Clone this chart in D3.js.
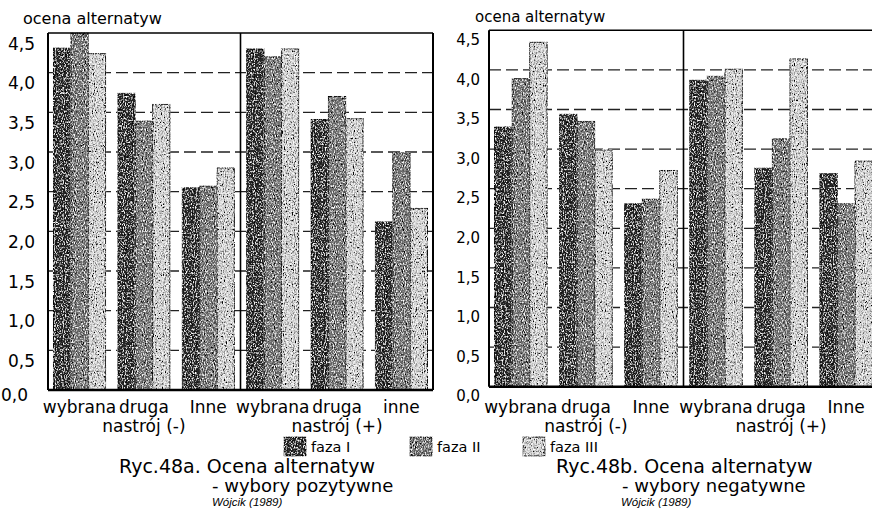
<!DOCTYPE html>
<html>
<head>
<meta charset="utf-8">
<script src="https://cdn.jsdelivr.net/npm/d3@7/dist/d3.min.js"></script>
<style>
  html, body { margin: 0; padding: 0; background: #fff; }
  svg { display: block; font-family: "DejaVu Sans", sans-serif; }
</style>
</head>
<body>
<svg id="chart" width="872" height="531"></svg>
<script>
// Phases of the study (series) and the group labels under each panel
const phases = ["faza I", "faza II", "faza III"];
const groupLabels = ["wybrana", "druga", "Inne", "wybrana", "druga", "inne"];
const groupLabelsB = ["wybrana", "druga", "Inne", "wybrana", "druga", "Inne"];
const moodLabels = ["nastrój (-)", "nastrój (+)"];

// Ryc.48a – positive choices (mood − groups, then mood + groups)
const posFazaI   = [4.31, 3.74, 2.55, 4.30, 3.41, 2.12];
const posFazaII  = [4.50, 3.39, 2.57, 4.20, 3.70, 2.99];
const posFazaIII = [4.24, 3.60, 2.80, 4.30, 3.42, 2.29];

// Ryc.48b – negative choices
const negFazaI   = [3.28, 3.44, 2.31, 3.87, 2.76, 2.69];
const negFazaII  = [3.89, 3.35, 2.37, 3.92, 3.13, 2.31];
const negFazaIII = [4.35, 2.99, 2.73, 4.01, 4.14, 2.85];

// Value axis
const yTicks = [0, 0.5, 1, 1.5, 2, 2.5, 3, 3.5, 4, 4.5];
const yTickLabels = ["0,0", "0,5", "1,0", "1,5", "2,0", "2,5", "3,0", "3,5", "4,0", "4,5"];
const gridTicks = [0.5, 1, 1.5, 2, 2.5, 3, 3.5, 4];

const axisTitle = "ocena alternatyw";
const captions = [
  ["Ryc.48a. Ocena alternatyw", "- wybory pozytywne", "Wójcik (1989)"],
  ["Ryc.48b. Ocena alternatyw", "- wybory negatywne", "Wójcik (1989)"]
];

const fills = ["#2c2c2c", "#7a7a7a", "#d8d8d8"];

const svg = d3.select("#chart");
const defs = svg.append("defs");

// Stippled print texture for the bar fills
phases.forEach((p, i) => {
  const f = defs.append("filter")
    .attr("id", "grain" + i)
    .attr("x", "-5%").attr("y", "-5%").attr("width", "110%").attr("height", "110%");
  f.append("feTurbulence")
    .attr("type", "fractalNoise")
    .attr("baseFrequency", "0.9 0.55")
    .attr("numOctaves", 2)
    .attr("seed", 3 + i * 5)
    .attr("result", "noise");
  f.append("feColorMatrix")
    .attr("in", "noise").attr("type", "matrix")
    .attr("values", "0.33 0.33 0.33 0 0  0.33 0.33 0.33 0 0  0.33 0.33 0.33 0 0  0 0 0 0 1")
    .attr("result", "gray");
  const ct = f.append("feComponentTransfer").attr("in", "gray").attr("result", "contrast");
  ["feFuncR", "feFuncG", "feFuncB"].forEach(fn =>
    ct.append(fn).attr("type", "linear").attr("slope", 3.2).attr("intercept", -1.1));
  f.append("feBlend").attr("in", "SourceGraphic").attr("in2", "contrast")
    .attr("mode", "overlay").attr("result", "blend");
  f.append("feComposite").attr("in", "blend").attr("in2", "SourceGraphic").attr("operator", "in");
});

function drawPanel(cfg) {
  const g = svg.append("g");
  const series = cfg.series;
  const idx = d3.range(series[0].length);

  const x0 = d3.scaleBand().domain(idx).range(cfg.xRange)
    .paddingInner(0.19).paddingOuter(0.085);
  const x1 = d3.scaleBand().domain(d3.range(phases.length)).range([0, x0.bandwidth()]);
  const y = d3.scaleLinear().domain([0, 4.5]).range(cfg.yRange);

  const [xl, xr] = cfg.xRange;
  const xm = (xl + xr) / 2;

  // dashed gridlines
  g.append("g").selectAll("line").data(gridTicks).join("line")
    .attr("x1", xl).attr("x2", xr)
    .attr("y1", d => y(d)).attr("y2", d => y(d))
    .attr("stroke", "#222").attr("stroke-width", 1.3)
    .attr("stroke-dasharray", "12,5");

  // bars
  const bars = [];
  series.forEach((vals, si) => vals.forEach((v, gi) => bars.push({ si, gi, v })));
  g.append("g").selectAll("rect").data(bars).join("rect")
    .attr("x", d => x0(d.gi) + x1(d.si))
    .attr("y", d => y(d.v))
    .attr("width", x1.bandwidth())
    .attr("height", d => y(0) - y(d.v))
    .attr("fill", d => fills[d.si])
    .attr("stroke", "#000").attr("stroke-width", 1)
    .attr("filter", d => `url(#grain${d.si})`);

  // frame: top, left axis, divider, right edge, baseline
  const frame = g.append("g").attr("stroke", "#000").attr("fill", "none");
  frame.append("line").attr("x1", xl).attr("x2", xr).attr("y1", y(4.5)).attr("y2", y(4.5)).attr("stroke-width", 1.6);
  frame.append("line").attr("x1", xl).attr("x2", xl).attr("y1", y(4.5)).attr("y2", y(0)).attr("stroke-width", 2);
  frame.append("line").attr("x1", xm).attr("x2", xm).attr("y1", y(4.5)).attr("y2", y(0)).attr("stroke-width", 1.6);
  frame.append("line").attr("x1", xr).attr("x2", xr).attr("y1", y(4.5)).attr("y2", y(0)).attr("stroke-width", 2);
  frame.append("line").attr("x1", xl).attr("x2", xr).attr("y1", y(0)).attr("y2", y(0)).attr("stroke-width", 2.6);

  // value axis labels
  const axis = d3.axisLeft(y).tickValues(yTicks)
    .tickFormat((d, i) => yTickLabels[i]).tickSize(0).tickPadding(cfg.tickPad);
  const ag = g.append("g").attr("transform", `translate(${xl},0)`).call(axis);
  ag.select(".domain").remove();
  ag.selectAll("text")
    .attr("font-family", "DejaVu Sans, sans-serif")
    .attr("font-size", cfg.tickSize)
    .attr("fill", "#000")
    .attr("dy", "0.95em");
  if (cfg.zeroShift) {
    ag.selectAll(".tick").filter(d => d === 0).select("text")
      .attr("dx", cfg.zeroShift[0]).attr("dy", cfg.zeroShift[1]);
  }

  // axis title
  g.append("text").attr("x", cfg.titleX).attr("y", cfg.titleY)
    .attr("font-size", cfg.titleSize).text(axisTitle);

  // group labels
  g.append("g").selectAll("text").data(idx).join("text")
    .attr("x", d => x0(d) + x0.bandwidth() / 2)
    .attr("y", 413)
    .attr("text-anchor", "middle")
    .attr("font-size", 17)
    .text(d => cfg.labels[d]);

  // mood labels under the middle group of each half
  g.append("g").selectAll("text").data([1, 4]).join("text")
    .attr("x", d => x0(d) + x0.bandwidth() / 2)
    .attr("y", 432)
    .attr("text-anchor", "middle")
    .attr("font-size", 17)
    .text((d, i) => moodLabels[i]);

  // caption
  const cap = cfg.caption;
  g.append("text").attr("x", cfg.capX[0]).attr("y", 473).attr("font-size", 19).text(cap[0]);
  g.append("text").attr("x", cfg.capX[1]).attr("y", 492).attr("font-size", 18).text(cap[1]);
  g.append("text").attr("x", cfg.capX[2]).attr("y", 506)
    .attr("font-family", "Liberation Sans, sans-serif").attr("font-style", "italic")
    .attr("font-size", 11.5).text(cap[2]);
}

drawPanel({
  series: [posFazaI, posFazaII, posFazaIII],
  labels: groupLabels,
  xRange: [48, 433], yRange: [390, 33],
  tickPad: 13, tickSize: 17, zeroShift: [-7, "0.6em"],
  titleX: 23, titleY: 24, titleSize: 16,
  caption: captions[0], capX: [119, 212, 212]
});

drawPanel({
  series: [negFazaI, negFazaII, negFazaIII],
  labels: groupLabelsB,
  xRange: [489, 878], yRange: [386.7, 30.3],
  tickPad: 9, tickSize: 15,
  titleX: 475, titleY: 22, titleSize: 15,
  caption: captions[1], capX: [556, 622, 621]
});

// legend
const legendX = [284, 410, 523];
const lg = svg.append("g");
lg.selectAll("rect").data(phases).join("rect")
  .attr("x", (d, i) => legendX[i]).attr("y", 437)
  .attr("width", 22).attr("height", 19)
  .attr("fill", (d, i) => fills[i])
  .attr("stroke", "#000").attr("stroke-width", 1)
  .attr("filter", (d, i) => `url(#grain${i})`);
lg.selectAll("text").data(phases).join("text")
  .attr("x", (d, i) => legendX[i] + 27).attr("y", 452)
  .attr("font-size", 14.5)
  .text(d => d);
</script>
</body>
</html>
